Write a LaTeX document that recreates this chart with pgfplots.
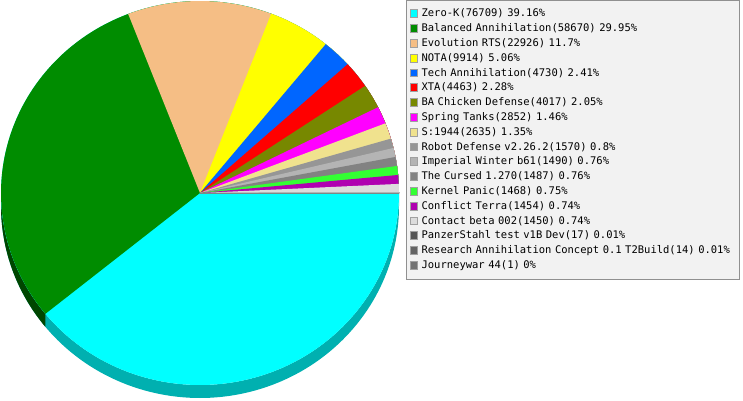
\documentclass[border=0pt]{standalone}
\usepackage{fontspec}
\setmonofont{DejaVu Sans Mono}
\usepackage{pgfplots}
\pgfplotsset{compat=1.18}
\usepgfplotslibrary{fillbetween}
\definecolor{c1}{HTML}{00FFFF}\definecolor{r1}{HTML}{00B0B0}
\definecolor{c2}{HTML}{008C00}\definecolor{r2}{HTML}{004600}
\definecolor{c3}{HTML}{F5BE85}
\definecolor{c4}{HTML}{FFFF00}
\definecolor{c5}{HTML}{0066FF}
\definecolor{c6}{HTML}{FF0000}
\definecolor{c7}{HTML}{778800}
\definecolor{c8}{HTML}{FF00FF}
\definecolor{c9}{HTML}{F0E28E}
\definecolor{c10}{HTML}{969696}
\definecolor{c11}{HTML}{B4B4B4}
\definecolor{c12}{HTML}{828282}
\definecolor{c13}{HTML}{33FF33}
\definecolor{c14}{HTML}{B000B0}
\definecolor{c15}{HTML}{DCDCDC}
\definecolor{c16}{HTML}{555555}
\definecolor{c17}{HTML}{646464}
\definecolor{c18}{HTML}{737373}
\definecolor{legborder}{HTML}{909090}
\definecolor{legfill}{HTML}{F2F2F2}
\definecolor{swborder}{HTML}{A0A0A0}
\begin{document}
\begin{tikzpicture}
\def\cx{200}\def\cy{207}\def\rx{199}\def\ry{192}\def\dep{13}
\gdef\total{0}
\foreach \v in {76709,58670,22926,9914,4730,4463,4017,2852,2635,1570,1490,1487,1468,1454,1450,17,14,1}{\xdef\total{\fpeval{\total+\v}}}
\gdef\cum{0}
\newcommand\slice[4]{%
  \edef\aS{\fpeval{round(-360*\cum/\total,5)}}%
  \xdef\cum{\fpeval{\cum+#1}}%
  \edef\ns{\fpeval{ceil((\aS+360)/1.5)+3}}%
  \ifnum\fpeval{\aS>-180}=1
    \edef\nr{\fpeval{ceil((\aS+180)/1.5)+3}}%
    \edef\doit{%
      \noexpand\addplot[draw=none, forget plot, name path=ra#1, domain=-180:\aS, samples=\nr] ({\cx+\rx*cos(x)},{\cy+\ry*sin(x)});
      \noexpand\addplot[draw=none, forget plot, name path=rb#1, domain=-180:\aS, samples=\nr] ({\cx+\rx*cos(x)},{\cy+\ry*sin(x)-\dep});
      \noexpand\addplot[fill=r#2, draw=none, forget plot] fill between[of=ra#1 and rb#1];}%
    \doit
  \fi
  \edef\doit{\noexpand\addplot[fill=c#2, draw=none, domain=-360:\aS, samples=\ns] ({\cx+\rx*cos(x)},{\cy+\ry*sin(x)}) -- (axis cs:\cx,\cy) -- cycle;}%
  \doit
  \addlegendentry{#3}%
}
\begin{axis}[name=ax, width=743pt, height=400pt, scale only axis,
  xmin=0, xmax=743, ymin=0, ymax=400, hide axis, clip=false,
  legend cell align=left,
  legend image code/.code={\draw[#1, draw=swborder, line width=0.8pt] (0.4pt,-3.4pt) rectangle (8.2pt,4.4pt);},
  legend style={at={(axis cs:405.5,399.5)}, anchor=north west,
    draw=legborder, fill=legfill, line width=1pt,
    inner xsep=3.5pt, inner ysep=5.8pt, row sep=0pt,
    font=\ttfamily\fontsize{10.5}{12}\selectfont,
    nodes={inner xsep=3.5pt, inner ysep=2.5pt, text height=7.5pt, text depth=2.3pt, text width=311pt, align=left}},
]
\slice{76709}{1}{Zero-K(76709) 39.16\%}{}
\slice{58670}{2}{Balanced Annihilation(58670) 29.95\%}{}
\slice{22926}{3}{Evolution RTS(22926) 11.7\%}{}
\slice{9914}{4}{NOTA(9914) 5.06\%}{}
\slice{4730}{5}{Tech Annihilation(4730) 2.41\%}{}
\slice{4463}{6}{XTA(4463) 2.28\%}{}
\slice{4017}{7}{BA Chicken Defense(4017) 2.05\%}{}
\slice{2852}{8}{Spring Tanks(2852) 1.46\%}{}
\slice{2635}{9}{S:1944(2635) 1.35\%}{}
\slice{1570}{10}{Robot Defense v2.26.2(1570) 0.8\%}{}
\slice{1490}{11}{Imperial Winter b61(1490) 0.76\%}{}
\slice{1487}{12}{The Cursed 1.270(1487) 0.76\%}{}
\slice{1468}{13}{Kernel Panic(1468) 0.75\%}{}
\slice{1454}{14}{Conflict Terra(1454) 0.74\%}{}
\slice{1450}{15}{Contact beta 002(1450) 0.74\%}{}
\slice{17}{16}{PanzerStahl test v1B Dev(17) 0.01\%}{}
\slice{14}{17}{Research Annihilation Concept 0.1 T2Build(14) 0.01\%}{}
\slice{1}{18}{Journeywar 44(1) 0\%}{}
\end{axis}
\pgfresetboundingbox
\path[use as bounding box] (ax.south west) rectangle (ax.north east);
\end{tikzpicture}
\end{document}
